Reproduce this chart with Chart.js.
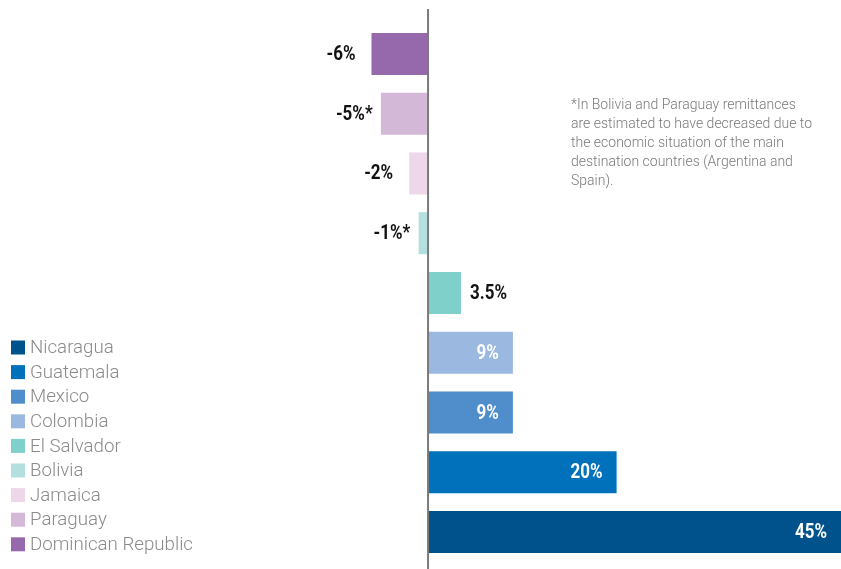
<!DOCTYPE html>
<html>
<head>
<meta charset="utf-8">
<script src="https://cdn.jsdelivr.net/npm/chart.js@4/dist/chart.umd.min.js"></script>
<style>
  html, body { margin: 0; padding: 0; background: #fff; }
  #wrap { position: relative; width: 841px; height: 569px; }
</style>
</head>
<body>
<div id="wrap"><canvas id="chartCanvas" width="841" height="569"></canvas></div>
<script>
// remittance growth by country, top to bottom
const countries = ['Dominican Republic', 'Paraguay', 'Jamaica', 'Bolivia', 'El Salvador', 'Colombia', 'Mexico', 'Guatemala', 'Nicaragua'];
const growth = [-6, -5, -2, -1, 3.5, 9, 9, 20, 45];
const valueLabels = ['-6%', '-5%*', '-2%', '-1%*', '3.5%', '9%', '9%', '20%', '45%'];
const barColors = ['#9569ac', '#d4b8d8', '#eed7e9', '#b3dfdf', '#7fcfcb', '#9bb8e0', '#4f8ecb', '#0071ba', '#00528c'];
const noteLines = [
    '*In Bolivia and Paraguay remittances',
    'are estimated to have decreased due to',
    'the economic situation of the main',
    'destination countries (Argentina and',
    'Spain).'
];

const labelFont = 'bold 20px Roboto';
const squeeze = 0.85;

// zero line, drawn a little past the plot area
const zeroLine = {
    id: 'zeroLine',
    afterDatasetsDraw(chart) {
        const ctx = chart.ctx;
        const x = chart.scales.x.getPixelForValue(0);
        ctx.save();
        ctx.strokeStyle = '#7a7a7a';
        ctx.lineWidth = 2;
        ctx.beginPath();
        ctx.moveTo(x, 9);
        ctx.lineTo(x, chart.height);
        ctx.stroke();
        ctx.restore();
    }
};

// value labels: inside the bar when it fits, otherwise beside it
const barLabels = {
    id: 'barLabels',
    afterDatasetsDraw(chart) {
        const ctx = chart.ctx;
        const meta = chart.getDatasetMeta(0);
        const right = chart.chartArea.right;
        ctx.save();
        ctx.font = labelFont;
        ctx.textBaseline = 'middle';
        meta.data.forEach((bar, i) => {
            const text = valueLabels[i];
            const base = text.replace('*', '');
            const w = ctx.measureText(text).width * squeeze;
            const wb = ctx.measureText(base).width * squeeze;
            const end = bar.x;
            const len = Math.abs(bar.x - bar.base);
            let x, color;
            if (growth[i] < 0) {
                x = end - 16 - wb;
                color = '#111';
            } else if (len > w + 30) {
                x = Math.min(end, right) - 14 - w;
                color = '#fff';
            } else {
                x = end + 9;
                color = '#111';
            }
            ctx.save();
            ctx.translate(x, bar.y + 1);
            ctx.scale(squeeze, 1);
            ctx.fillStyle = color;
            ctx.textAlign = 'left';
            ctx.fillText(text, 0, 0);
            ctx.restore();
        });
        ctx.restore();
    }
};

// legend block in the lower left, plus the footnote
const sideText = {
    id: 'sideText',
    afterDraw(chart) {
        const ctx = chart.ctx;
        ctx.save();
        ctx.textBaseline = 'middle';
        ctx.font = '300 18.7px Roboto';
        const order = countries.map((c, i) => i).reverse();
        order.forEach((idx, row) => {
            const y = 347.5 + row * 24.6;
            ctx.fillStyle = barColors[idx];
            ctx.fillRect(11, y - 7, 14, 14);
            ctx.fillStyle = '#8a8a8a';
            ctx.fillText(countries[idx], 30, y + 1);
        });
        ctx.font = '300 14px Roboto';
        ctx.fillStyle = '#7a7a7a';
        ctx.textBaseline = 'alphabetic';
        noteLines.forEach((line, k) => {
            ctx.fillText(line, 571, 109 + k * 19);
        });
        ctx.restore();
    }
};

const ctx = document.getElementById('chartCanvas').getContext('2d');

const chart = new Chart(ctx, {
    type: 'bar',
    data: {
        labels: countries,
        datasets: [{
            data: growth,
            backgroundColor: barColors,
            borderWidth: 0,
            barPercentage: 0.703,
            categoryPercentage: 1.0
        }]
    },
    options: {
        indexAxis: 'y',
        responsive: false,
        animation: false,
        layout: {
            padding: { top: 24, bottom: 7, left: 0, right: 0 }
        },
        scales: {
            x: {
                display: false,
                min: -45.4,
                max: 43.8
            },
            y: {
                display: false
            }
        },
        plugins: {
            legend: { display: false },
            tooltip: { enabled: false }
        }
    },
    plugins: [zeroLine, barLabels, sideText]
});
</script>
</body>
</html>
